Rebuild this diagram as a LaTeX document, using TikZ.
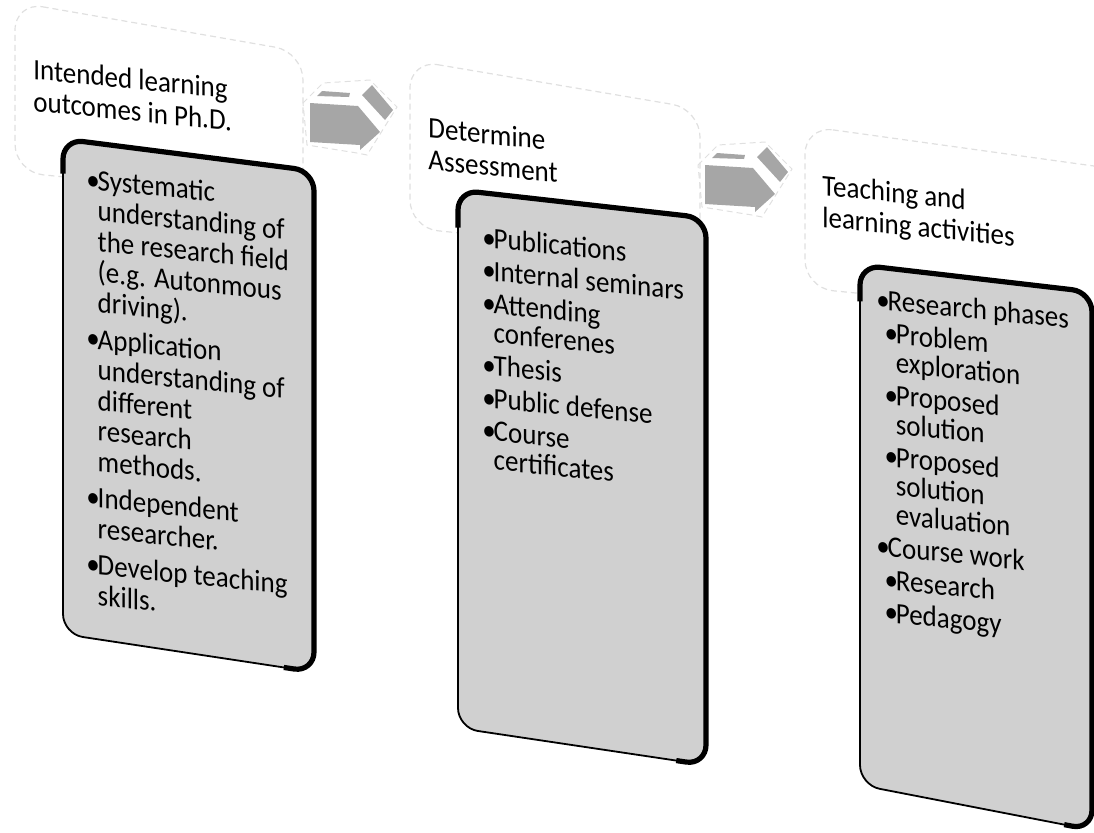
\documentclass[tikz,border=0pt]{standalone}
\usepackage{fontspec}
\setmainfont{Carlito}
\usetikzlibrary{calc}

\definecolor{boxgray}{HTML}{D0D0D0}
\definecolor{arrowgray}{HTML}{A6A6A6}
\definecolor{hdrline}{HTML}{E0E0E0}

\newcommand{\bu}{\makebox[0.42em][l]{\textbullet}}
\newcommand{\ind}{\hspace*{0.42em}}
\newcommand{\subbu}{\hspace*{0.3em}\makebox[0.42em][l]{\textbullet}}
\newcommand{\subind}{\hspace*{0.72em}}

\begin{document}
\begin{tikzpicture}[x=0.5pt,y=-0.5pt,
	hdr/.style={fill=white, draw=hdrline, densely dashed, line width=0.6pt, rounded corners=14pt},
	gbox/.style={fill=boxgray, draw=black, line width=0.9pt, rounded corners=10pt},
	rim/.style={draw=black, line width=2.6pt, rounded corners=10pt},
	arr/.style={fill=arrowgray, draw=none},
	arrline/.style={draw=hdrline, densely dashed, line width=0.5pt},
	ttl/.style={anchor=north west, inner sep=0pt, align=left, yslant=-0.1, yscale=1.1, font=\fontsize{13.5}{14.5}\selectfont},
	lst/.style={anchor=north west, inner sep=0pt, align=left, yslant=-0.1, yscale=1.1, font=\fontsize{13.5}{13.1}\selectfont}]
	\useasboundingbox (0,0) rectangle (1094,832);
	
	%Kopfzeilen
	\draw[hdr] (15,2) -- (303,52) -- (303,201) -- (15,172) -- cycle;
	\draw[hdr] (410,60) -- (700,109) -- (700,257) -- (410,228) -- cycle;
	\draw[hdr] (805,126) -- (1130,171) -- (1130,320) -- (805,288) -- cycle;
	
	%Pfeile
	\draw[arrline] (303,103) -- (323,83) -- (370,80) -- (397,107) -- (367,155) -- (357,153) -- (307,145) -- cycle;
	\fill[arr] (310,103) -- (358,106) -- (380,132) -- (360,150) -- (360,145) -- (310,142) -- cycle;
	\fill[arr] (317,96) -- (322,91) -- (350,93) -- (349,97) -- cycle;
	\fill[arr] (362,95) -- (372,85) -- (393,110) -- (385,120) -- cycle;
	
	\draw[arrline] (698,165) -- (718,145) -- (765,142) -- (792,169) -- (762,217) -- (752,215) -- (702,207) -- cycle;
	\fill[arr] (705,165) -- (753,168) -- (775,194) -- (755,212) -- (755,207) -- (705,204) -- cycle;
	\fill[arr] (712,158) -- (717,153) -- (745,155) -- (744,159) -- cycle;
	\fill[arr] (757,157) -- (767,147) -- (788,172) -- (780,182) -- cycle;
	
	%graue Kaesten
	\coordinate (a1) at (63,139);  \coordinate (b1) at (314,171);
	\coordinate (c1) at (314,672); \coordinate (d1) at (63,634);
	\coordinate (a2) at (458,190); \coordinate (b2) at (706,218);
	\coordinate (c2) at (706,765); \coordinate (d2) at (458,728);
	\coordinate (a3) at (860,265); \coordinate (b3) at (1092,292);
	\coordinate (c3) at (1092,830); \coordinate (d3) at (860,785);
	
	\draw[gbox] (a1) -- (b1) -- (c1) -- (d1) -- cycle;
	\draw[rim] ($(d1)!0.93!(a1)$) -- (a1) -- (b1) -- (c1) -- ($(c1)!0.12!(d1)$);
	\draw[gbox] (a2) -- (b2) -- (c2) -- (d2) -- cycle;
	\draw[rim] ($(d2)!0.93!(a2)$) -- (a2) -- (b2) -- (c2) -- ($(c2)!0.12!(d2)$);
	\draw[gbox] (a3) -- (b3) -- (c3) -- (d3) -- cycle;
	\draw[rim] ($(d3)!0.93!(a3)$) -- (a3) -- (b3) -- (c3) -- ($(c3)!0.12!(d3)$);
	
	%Texte
	\node[ttl] (h1) at (33,58) {Intended learning\\outcomes in Ph.D.};
	\node[ttl] (h2) at (428,117) {Determine\\Assessment};
	\node[ttl] (h3) at (822,174) {Teaching and\\learning activities};
	
	\node[lst, font=\fontsize{13.5}{13.9}\selectfont] (l1) at (86,168) {\bu Systematic\\ \ind understanding of\\ \ind the research field\\ \ind (e.g. Autonmous\\ \ind driving).\\[2.7pt]
		\bu Application\\ \ind understanding of\\ \ind different\\ \ind research\\ \ind methods.\\[2.7pt]
		\bu Independent\\ \ind researcher.\\[2.7pt]
		\bu Develop teaching\\ \ind skills.};
	\node[lst] (l2) at (482,226) {\bu Publications\\[1.8pt] \bu Internal seminars\\[1.8pt] \bu Attending\\ \ind conferenes\\[1.8pt]
		\bu Thesis\\[1.8pt] \bu Public defense\\[1.8pt] \bu Course\\ \ind certificates};
	\node[lst] (l3) at (876,288) {\bu Research phases\\[1.8pt] \subbu Problem\\ \subind exploration\\[1.8pt]
		\subbu Proposed\\ \subind solution\\[1.8pt] \subbu Proposed\\ \subind solution\\ \subind evaluation\\[1.8pt]
		\bu Course work\\[1.8pt] \subbu Research\\[1.8pt] \subbu Pedagogy};
\end{tikzpicture}
\end{document}
